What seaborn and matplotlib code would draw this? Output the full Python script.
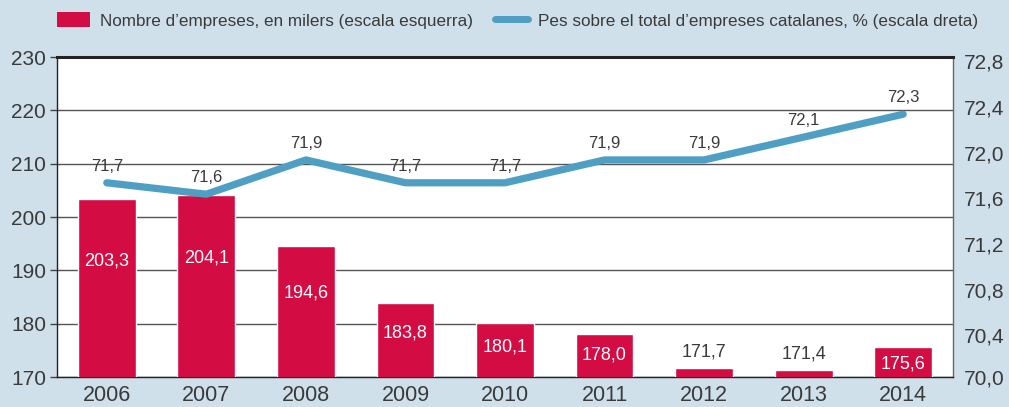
import numpy as np
import pandas as pd
import matplotlib
matplotlib.use("Agg")
import matplotlib.pyplot as plt
import matplotlib.transforms as mtransforms
import seaborn as sns
from matplotlib.patches import Patch
from matplotlib.lines import Line2D

years = ["2006", "2007", "2008", "2009", "2010", "2011", "2012", "2013", "2014"]
empreses = [203.3, 204.1, 194.6, 183.8, 180.1, 178.0, 171.7, 171.4, 175.6]
pes = [71.7, 71.6, 71.9, 71.7, 71.7, 71.9, 71.9, 72.1, 72.3]

left_ticks = [170, 180, 190, 200, 210, 220, 230]
right_ticks = [70.0, 70.4, 70.8, 71.2, 71.6, 72.0, 72.4, 72.8]

df = pd.DataFrame({"year": years, "empreses": empreses, "pes": pes})

BG = "#cfe0eb"
RED = "#d30d43"
BLUE = "#4f9ec3"
TXT = "#3a3a3a"

sns.set_style("white")
plt.rcParams["font.family"] = ["Liberation Sans", "DejaVu Sans"]

fig = plt.figure(figsize=(10.09, 4.07), dpi=100)
fig.patch.set_facecolor(BG)
ax = fig.add_axes([0.0565, 0.0737, 0.888, 0.786])
ax.set_facecolor("white")

sns.barplot(data=df, x="year", y="empreses", color=RED, width=0.58,
            saturation=1, ax=ax, zorder=3)
ax.set_ylim(170, 230)
ax.set_xlim(-0.5, len(years) - 0.5)
ax.set_yticks(left_ticks)
ax.set_yticklabels([str(t) for t in left_ticks])
ax.set_xlabel("")
ax.set_ylabel("")
ax.grid(axis="y", color="#555555", linewidth=1, zorder=0)
ax.set_axisbelow(True)

ax.tick_params(axis="y", direction="out", length=5, width=1, color="#444444",
               labelsize=15, labelcolor=TXT, pad=3, right=True)
ax.tick_params(axis="x", length=0, labelsize=15.5, labelcolor=TXT, pad=6)
ax.set_xticks(np.arange(-0.5, len(years), 1), minor=True)
ax.tick_params(axis="x", which="minor", direction="out", length=6, width=1,
               color="#666666")

for side in ["left", "bottom"]:
    ax.spines[side].set_color("#222222")
    ax.spines[side].set_linewidth(1)
ax.spines["top"].set_color("#222222")
ax.spines["top"].set_linewidth(2.2)
ax.spines["right"].set_color("#666666")
ax.spines["right"].set_linewidth(1)

# bar value labels
for i, v in enumerate(empreses):
    lab = f"{v:.1f}".replace(".", ",")
    if v > 175:
        ax.text(i, v - (v - 170) * 0.3 - 1.5, lab, ha="center", va="center",
                color="white", fontsize=13, zorder=5)
    else:
        ax.text(i, v + 3, lab, ha="center", va="center",
                color=TXT, fontsize=13, zorder=5)

ax2 = ax.twinx()
sns.lineplot(x=np.arange(len(years)), y=pes, ax=ax2, color=BLUE,
             linewidth=5.2, solid_capstyle="round", solid_joinstyle="round",
             zorder=4)
ax2.set_ylim(70.0, 72.8)
ax2.set_yticks(right_ticks)
ax2.set_yticklabels([f"{t:.1f}".replace(".", ",") for t in right_ticks])
ax2.tick_params(axis="y", length=0, labelsize=15, labelcolor=TXT, pad=8)
ax2.set_xlim(-0.5, len(years) - 0.5)
for s in ax2.spines.values():
    s.set_visible(False)

# right labels sit a little below their gridlines in the original
shift = mtransforms.ScaledTranslation(0, -4 / 100, fig.dpi_scale_trans)
for lbl in ax2.get_yticklabels()[1:]:
    lbl.set_transform(lbl.get_transform() + shift)

for i, v in enumerate(pes):
    ax2.annotate(f"{v:.1f}".replace(".", ","), (i, v), xytext=(0, 12),
                 textcoords="offset points", ha="center", va="center",
                 color=TXT, fontsize=12)

handles = [Patch(facecolor=RED, edgecolor="none"),
           Line2D([0], [0], color=BLUE, linewidth=5, solid_capstyle="round")]
labels = ["Nombre d\u2019empreses, en milers (escala esquerra)",
          "Pes sobre el total d\u2019empreses catalanes, % (escala dreta)"]
leg = fig.legend(handles, labels, loc="center", bbox_to_anchor=(0.513, 0.95),
                 ncol=2, frameon=False, fontsize=12.3, handlelength=1.9,
                 handleheight=1.0, handletextpad=0.6, columnspacing=1.3)
for t in leg.get_texts():
    t.set_color(TXT)

fig.savefig("out.png", dpi=100, facecolor=BG)
